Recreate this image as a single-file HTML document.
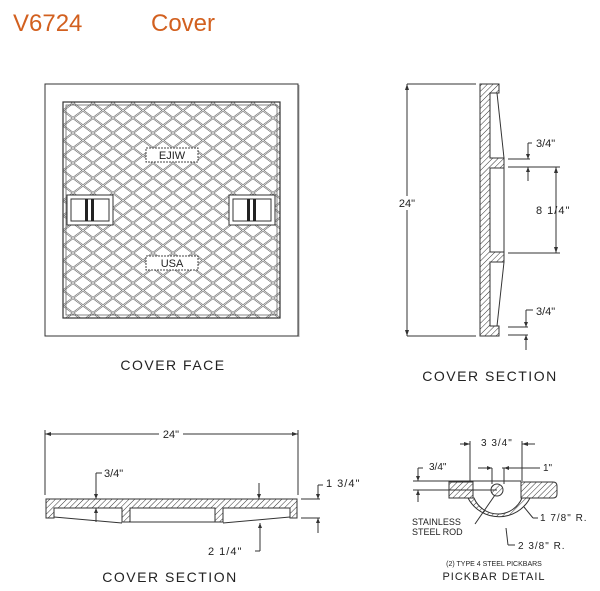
<!DOCTYPE html>
<html><head><meta charset="utf-8"><style>
body{margin:0;background:#fff;width:600px;height:591px;overflow:hidden}
svg{display:block}
.t{font-family:"Liberation Sans",sans-serif;fill:#222}
</style></head><body>
<svg width="600" height="591" viewBox="0 0 600 591" xmlns="http://www.w3.org/2000/svg">
<defs>
<pattern id="h" width="4" height="4" patternUnits="userSpaceOnUse" patternTransform="rotate(45)">
<rect width="4" height="4" fill="#fff"/><line x1="0" y1="0" x2="0" y2="4" stroke="#333" stroke-width="1"/></pattern>
<pattern id="d" x="63" y="103" width="20" height="15" patternUnits="userSpaceOnUse">
<rect width="20" height="15" fill="#fff"/>
<path d="M0,7.5 L10,0 L20,7.5 L10,15 Z" fill="none" stroke="#666" stroke-width="1.8"/>
<path d="M0,7.5 L10,0 L20,7.5 L10,15 Z" fill="none" stroke="#fff" stroke-width="0.6"/>
</pattern>
</defs>
<text x="13" y="31" class="t" style="fill:#d2601f;font-size:24px">V6724</text>
<text x="151" y="31" class="t" style="fill:#d2601f;font-size:24px">Cover</text>

<!-- cover face -->
<rect x="45" y="84" width="253" height="252" fill="#fff" stroke="#333" stroke-width="1"/>
<line x1="299" y1="85" x2="299" y2="337" stroke="#aaa"/>
<rect x="63" y="102" width="217" height="216" fill="url(#d)" stroke="#333" stroke-width="1.2"/>
<rect x="66" y="105" width="211" height="210" fill="none" stroke="#666" stroke-width="0.8"/>
<rect x="146" y="148" width="52" height="14" fill="#fff" stroke="#444" stroke-dasharray="2,1"/>
<text x="172" y="159" class="t" text-anchor="middle" style="font-size:11px">EJIW</text>
<rect x="146" y="256" width="52" height="14" fill="#fff" stroke="#444" stroke-dasharray="2,1"/>
<text x="172" y="267" class="t" text-anchor="middle" style="font-size:11px">USA</text>
<rect x="67" y="195" width="46" height="30" fill="#fff" stroke="#333"/>
<rect x="71" y="199" width="38" height="22" fill="#fff" stroke="#333"/>
<rect x="85" y="199" width="3" height="22" fill="#222"/><rect x="91" y="199" width="3" height="22" fill="#222"/>
<rect x="229" y="195" width="46" height="30" fill="#fff" stroke="#333"/>
<rect x="233" y="199" width="38" height="22" fill="#fff" stroke="#333"/>
<rect x="247" y="199" width="3" height="22" fill="#222"/><rect x="253" y="199" width="3" height="22" fill="#222"/>
<text x="173" y="370" class="t" text-anchor="middle" style="font-size:14px;letter-spacing:1.5px">COVER FACE</text>

<!-- right cover section -->
<g stroke="#333" fill="none" stroke-width="1">
<path d="M480,84 L499,84 L499,93 L490,93 L490,158 L504,158 L504,168 L490,168 L490,252 L504,252 L504,262 L490,262 L490,326 L499,326 L499,336 L480,336 Z" fill="url(#h)"/>
<line x1="497" y1="93" x2="504" y2="158"/><line x1="497" y1="326" x2="504" y2="262"/>
<line x1="504" y1="168" x2="504" y2="252"/>
<line x1="407" y1="84" x2="476" y2="84"/><line x1="407" y1="336" x2="476" y2="336"/>
<line x1="407" y1="84" x2="407" y2="336"/>
<line x1="508" y1="159" x2="530" y2="159"/><line x1="508" y1="167" x2="560" y2="167"/>
<line x1="508" y1="253" x2="560" y2="253"/>
<line x1="556" y1="167" x2="556" y2="253"/>
<line x1="528" y1="143" x2="528" y2="159"/><line x1="528" y1="143" x2="532" y2="143"/>
<line x1="528" y1="167" x2="528" y2="181"/>
<line x1="508" y1="327" x2="528" y2="327"/><line x1="508" y1="335" x2="528" y2="335"/>
<line x1="526" y1="310" x2="526" y2="327"/><line x1="526" y1="310" x2="533" y2="310"/>
<line x1="526" y1="335" x2="526" y2="350"/>
</g>
<g fill="#333">
<path d="M407,84 l-2,6 h4z"/><path d="M407,336 l-2,-6 h4z"/>
<path d="M556,167 l-2,6 h4z"/><path d="M556,253 l-2,-6 h4z"/>
<path d="M528,159 l-2,-5 h4z"/><path d="M528,167 l-2,5 h4z"/>
<path d="M526,327 l-2,-5 h4z"/><path d="M526,335 l-2,5 h4z"/>
</g>
<rect x="394" y="196" width="24" height="14" fill="#fff"/>
<text x="407" y="207" class="t" text-anchor="middle" style="font-size:11px">24"</text>
<text x="536" y="147" class="t" style="font-size:11px">3/4"</text>
<text x="536" y="214" class="t" style="font-size:11px;letter-spacing:1px">8  1/4"</text>
<text x="536" y="315" class="t" style="font-size:11px">3/4"</text>
<text x="490" y="381" class="t" text-anchor="middle" style="font-size:14px;letter-spacing:1.5px">COVER SECTION</text>

<!-- bottom cover section -->
<g stroke="#333" fill="none" stroke-width="1">
<line x1="45" y1="430" x2="45" y2="495"/><line x1="298" y1="430" x2="298" y2="495"/>
<line x1="45" y1="434" x2="298" y2="434"/>
<path d="M46,499 L297,499 L297,518 L290,518 L290,508 L223,508 L223,522 L215,522 L215,508 L130,508 L130,522 L122,522 L122,508 L54,508 L54,518 L46,518 Z" fill="url(#h)"/>
<line x1="54" y1="517" x2="122" y2="523"/><line x1="290" y1="517" x2="223" y2="523"/>
<line x1="130" y1="522" x2="215" y2="522"/>
<line x1="96" y1="473" x2="96" y2="499"/><line x1="96" y1="473" x2="102" y2="473"/>
<line x1="96" y1="508" x2="96" y2="522"/>
<line x1="259" y1="483" x2="259" y2="499"/>
<line x1="260" y1="523" x2="260" y2="551"/><line x1="255" y1="551" x2="260" y2="551"/>
<line x1="301" y1="499" x2="320" y2="499"/><line x1="301" y1="518" x2="320" y2="518"/>
<line x1="318" y1="485" x2="318" y2="499"/><line x1="318" y1="485" x2="323" y2="485"/>
<line x1="318" y1="518" x2="318" y2="533"/>
</g>
<g fill="#333">
<path d="M45,434 l6,-2 v4z"/><path d="M298,434 l-6,-2 v4z"/>
<path d="M96,499 l-2,-5 h4z"/><path d="M96,508 l-2,5 h4z"/>
<path d="M259,499 l-2,-5 h4z"/><path d="M260,523 l-2,5 h4z"/>
<path d="M318,499 l-2,-5 h4z"/><path d="M318,518 l-2,5 h4z"/>
</g>
<rect x="159" y="427" width="24" height="14" fill="#fff"/>
<text x="171" y="438" class="t" text-anchor="middle" style="font-size:11px">24"</text>
<text x="104" y="477" class="t" style="font-size:11px">3/4"</text>
<text x="326" y="487" class="t" style="font-size:11px;letter-spacing:1px">1 3/4"</text>
<text x="208" y="555" class="t" style="font-size:11px;letter-spacing:1px">2 1/4"</text>
<text x="170" y="582" class="t" text-anchor="middle" style="font-size:14px;letter-spacing:1.5px">COVER SECTION</text>

<!-- pickbar detail -->
<g stroke="#333" fill="none" stroke-width="1">
<rect x="449" y="482" width="24" height="16" fill="url(#h)"/>
<path d="M521,482 L553,482 Q557,482 557,486 L557,494 Q557,498 553,498 L521,498 Z" fill="url(#h)"/>
<path d="M468,498 A35,35 0 0 0 530,498 L522,498 A26,26 0 0 1 474,498 Z" fill="url(#h)"/>
<circle cx="497" cy="490" r="6" fill="url(#h)"/>
<line x1="413" y1="481" x2="521" y2="481"/><line x1="413" y1="490" x2="497" y2="490"/>
<line x1="418" y1="468" x2="418" y2="481"/><line x1="418" y1="468" x2="423" y2="468"/>
<line x1="418" y1="490" x2="418" y2="502"/>
<line x1="470" y1="441" x2="470" y2="481"/><line x1="522" y1="441" x2="522" y2="481"/>
<line x1="460" y1="444" x2="470" y2="444"/><line x1="522" y1="444" x2="535" y2="444"/>
<line x1="478" y1="468" x2="492" y2="468"/><line x1="502" y1="468" x2="540" y2="468"/>
<line x1="492" y1="468" x2="492" y2="484"/><line x1="504" y1="468" x2="504" y2="484"/>
<line x1="475" y1="524" x2="495" y2="495"/>
<line x1="524" y1="507" x2="533" y2="518"/><line x1="533" y1="518" x2="538" y2="518"/>
<line x1="506" y1="528" x2="508" y2="545"/><line x1="508" y1="545" x2="515" y2="545"/>
</g>
<g fill="#333">
<path d="M418,481 l-2,-5 h4z"/><path d="M418,490 l-2,5 h4z"/>
<path d="M470,444 l-6,-2 v4z"/><path d="M522,444 l6,-2 v4z"/>
<path d="M492,468 l-5,-2 v4z"/><path d="M504,468 l5,-2 v4z"/>
</g>
<text x="481" y="446" class="t" style="font-size:10px;letter-spacing:1px">3 3/4"</text>
<text x="429" y="470" class="t" style="font-size:10px">3/4"</text>
<text x="543" y="471" class="t" style="font-size:10px">1"</text>
<text x="412" y="525" class="t" style="font-size:9px">STAINLESS</text>
<text x="412" y="535" class="t" style="font-size:9px">STEEL ROD</text>
<text x="540" y="521" class="t" style="font-size:10px;letter-spacing:1px">1 7/8" R.</text>
<text x="518" y="549" class="t" style="font-size:10px;letter-spacing:1px">2 3/8" R.</text>
<text x="494" y="566" class="t" text-anchor="middle" style="font-size:7px">(2) TYPE 4 STEEL PICKBARS</text>
<text x="494" y="580" class="t" text-anchor="middle" style="font-size:11px;letter-spacing:1px">PICKBAR DETAIL</text>
</svg>
</body></html>
